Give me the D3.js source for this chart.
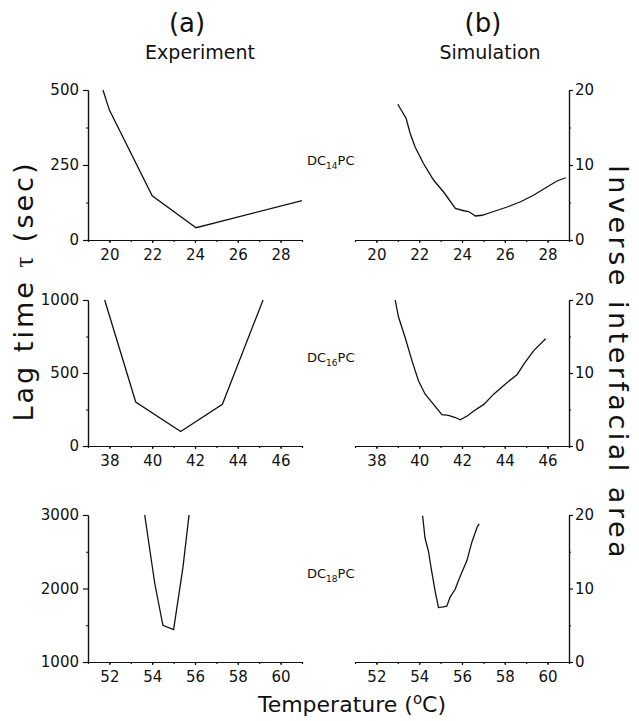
<!DOCTYPE html>
<html>
<head>
<meta charset="utf-8">
<script src="https://cdn.jsdelivr.net/npm/d3@7"></script>
<style>
  body { margin: 0; background: #fff; }
  svg text { font-family: "DejaVu Sans", sans-serif; fill: #111; }
  .axis path, .axis line { stroke: #111; stroke-width: 1.2; }
  .axis text { font-size: 15px; }
</style>
</head>
<body>
<div id="chart"></div>
<script>
// values
var expTemp14 = [19.7, 20.0, 22.0, 24.05, 29.0];
var expLag14 = [500, 433, 147, 41, 131];
var simTemp14 = [21.0, 21.39, 21.58, 21.81, 22.2, 22.67, 23.14, 23.69, 24.08, 24.31, 24.63, 24.94, 25.48, 26.11, 26.74, 27.36, 27.99, 28.46, 28.85];
var simArea14 = [18.1, 16.2, 14.2, 12.4, 10.2, 8.0, 6.4, 4.2, 3.9, 3.8, 3.2, 3.3, 3.8, 4.4, 5.1, 6.0, 7.1, 7.9, 8.3];

var expTemp16 = [37.78, 39.23, 41.33, 43.28, 45.18];
var expLag16 = [1000, 301, 99, 286, 1000];
var simTemp16 = [38.88, 39.03, 39.34, 39.66, 39.97, 40.28, 40.67, 41.06, 41.37, 41.69, 41.92, 42.24, 42.55, 43.02, 43.48, 44.03, 44.58, 44.89, 45.36, 45.91];
var simArea16 = [20.0, 17.7, 14.9, 11.7, 8.9, 7.1, 5.7, 4.3, 4.2, 3.9, 3.6, 4.1, 4.8, 5.7, 7.1, 8.5, 9.8, 11.2, 13.1, 14.7];

var expTemp18 = [53.65, 54.12, 54.5, 55.0, 55.44, 55.72];
var expLag18 = [3000, 2068, 1500, 1441, 2295, 3000];
var simTemp18 = [54.16, 54.27, 54.43, 54.58, 54.74, 54.9, 55.13, 55.29, 55.44, 55.68, 55.92, 56.23, 56.46, 56.7, 56.8];
var simArea18 = [19.9, 16.9, 15.1, 12.4, 9.7, 7.4, 7.5, 7.6, 8.8, 9.9, 11.7, 13.8, 16.3, 18.3, 18.8];

var lipids = ["14", "16", "18"];
var tempDomains = [[19, 29], [37, 47], [51, 61]];
var tempTicks = [[20, 22, 24, 26, 28], [38, 40, 42, 44, 46], [52, 54, 56, 58, 60]];
var lagDomains = [[0, 500], [0, 1000], [1000, 3000]];
var lagTicks = [[0, 250, 500], [0, 500, 1000], [1000, 2000, 3000]];
var areaDomain = [0, 20];
var areaTicks = [0, 10, 20];

var expData = [[expTemp14, expLag14], [expTemp16, expLag16], [expTemp18, expLag18]];
var simData = [[simTemp14, simArea14], [simTemp16, simArea16], [simTemp18, simArea18]];

var width = 639, height = 721;
var leftX = [88, 302], rightX = [355, 569];
var rows = [[90, 240], [300, 446], [515, 662]];
var labelY = [165, 362, 578];

var svg = d3.select("#chart").append("svg")
  .attr("width", width)
  .attr("height", height);

function unitTicks(dom) {
  var out = [];
  for (var t = Math.ceil(dom[0]); t <= dom[1]; t++) out.push(t);
  return out;
}

rows.forEach(function(r, i) {
  var y0 = r[1], y1 = r[0];

  // ----- experiment panel
  var xE = d3.scaleLinear().domain(tempDomains[i]).range(leftX);
  var yE = d3.scaleLinear().domain(lagDomains[i]).range([y0, y1]);
  var lagStep = lagTicks[i][1] - lagTicks[i][0];

  // minor ticks first, then labelled ones
  svg.append("g").attr("class", "axis")
    .attr("transform", "translate(0," + y0 + ")")
    .call(d3.axisBottom(xE).tickValues(unitTicks(tempDomains[i])).tickSize(2).tickSizeOuter(0).tickFormat(""));
  svg.append("g").attr("class", "axis")
    .attr("transform", "translate(0," + y0 + ")")
    .call(d3.axisBottom(xE).tickValues(tempTicks[i]).tickSize(3).tickSizeOuter(0).tickPadding(6).tickFormat(d3.format("d")));
  svg.append("g").attr("class", "axis")
    .attr("transform", "translate(" + leftX[0] + ",0)")
    .call(d3.axisLeft(yE).tickValues([lagTicks[i][0] + lagStep / 2, lagTicks[i][1] + lagStep / 2]).tickSize(2).tickSizeOuter(0).tickFormat(""));
  svg.append("g").attr("class", "axis")
    .attr("transform", "translate(" + leftX[0] + ",0)")
    .call(d3.axisLeft(yE).tickValues(lagTicks[i]).tickSize(5).tickSizeOuter(0).tickPadding(4).tickFormat(d3.format("d")));

  var ed = expData[i][0].map(function(t, k) { return [t, expData[i][1][k]]; });
  svg.append("path")
    .datum(ed)
    .attr("fill", "none")
    .attr("stroke", "#111")
    .attr("stroke-width", 1.3)
    .attr("d", d3.line().x(function(d) { return xE(d[0]); }).y(function(d) { return yE(d[1]); }));

  // ----- simulation panel
  var xS = d3.scaleLinear().domain(tempDomains[i]).range(rightX);
  var yS = d3.scaleLinear().domain(areaDomain).range([y0, y1]);

  svg.append("g").attr("class", "axis")
    .attr("transform", "translate(0," + y0 + ")")
    .call(d3.axisBottom(xS).tickValues(unitTicks(tempDomains[i])).tickSize(2).tickSizeOuter(0).tickFormat(""));
  svg.append("g").attr("class", "axis")
    .attr("transform", "translate(0," + y0 + ")")
    .call(d3.axisBottom(xS).tickValues(tempTicks[i]).tickSize(3).tickSizeOuter(0).tickPadding(6).tickFormat(d3.format("d")));
  svg.append("g").attr("class", "axis")
    .attr("transform", "translate(" + rightX[1] + ",0)")
    .call(d3.axisRight(yS).tickValues([5, 15]).tickSize(2).tickSizeOuter(0).tickFormat(""));
  svg.append("g").attr("class", "axis")
    .attr("transform", "translate(" + rightX[1] + ",0)")
    .call(d3.axisRight(yS).tickValues(areaTicks).tickSize(4).tickSizeOuter(0).tickPadding(2).tickFormat(d3.format("d")));

  var sd = simData[i][0].map(function(t, k) { return [t, simData[i][1][k]]; });
  svg.append("path")
    .datum(sd)
    .attr("fill", "none")
    .attr("stroke", "#111")
    .attr("stroke-width", 1.3)
    .attr("d", d3.line().x(function(d) { return xS(d[0]); }).y(function(d) { return yS(d[1]); }));

  // lipid label between the panels
  var lab = svg.append("text")
    .attr("x", 307)
    .attr("y", labelY[i])
    .style("font-size", "13px");
  lab.append("tspan").text("DC");
  lab.append("tspan").attr("dy", 4).style("font-size", "9px").text(lipids[i]);
  lab.append("tspan").attr("dy", -4).text("PC");
});

// column headers
svg.append("text").attr("x", 187).attr("y", 32).attr("text-anchor", "middle").style("font-size", "26px").text("(a)");
svg.append("text").attr("x", 200).attr("y", 59).attr("text-anchor", "middle").style("font-size", "19px").text("Experiment");
svg.append("text").attr("x", 483).attr("y", 32).attr("text-anchor", "middle").style("font-size", "26px").text("(b)");
svg.append("text").attr("x", 490).attr("y", 59).attr("text-anchor", "middle").style("font-size", "19px").text("Simulation");

// axis titles
var yt = svg.append("text")
  .attr("transform", "translate(33,291) rotate(-90)")
  .attr("text-anchor", "middle")
  .style("font-size", "27px")
  .style("letter-spacing", "3px");
yt.append("tspan").text("Lag time ");
yt.append("tspan").style("font-family", "serif").text("\u03c4");
yt.append("tspan").text("  (sec)");

svg.append("text")
  .attr("transform", "translate(609,363) rotate(90)")
  .attr("text-anchor", "middle")
  .style("font-size", "27px")
  .style("letter-spacing", "3.5px")
  .text("Inverse interfacial area");

var xt = svg.append("text")
  .attr("x", 352)
  .attr("y", 712)
  .attr("text-anchor", "middle")
  .style("font-size", "22px");
xt.append("tspan").text("Temperature (");
xt.append("tspan").attr("dy", -8).style("font-size", "15px").text("o");
xt.append("tspan").attr("dy", 8).text("C)");
</script>
</body>
</html>
